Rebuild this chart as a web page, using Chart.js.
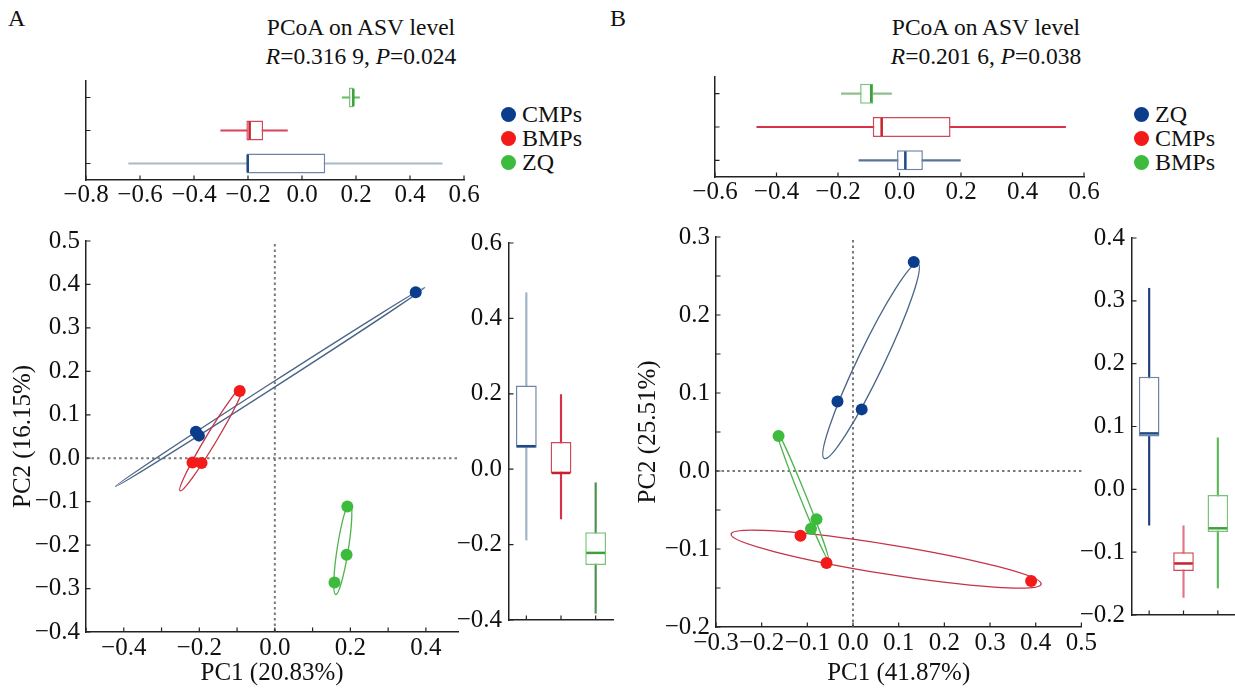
<!DOCTYPE html>
<html>
<head>
<meta charset="utf-8">
<script src="https://cdn.jsdelivr.net/npm/chart.js@4.4.1/dist/chart.umd.min.js"></script>
<style>
  body { margin: 0; width: 1235px; height: 690px; overflow: hidden; background: #fff; position: relative;
         font-family: "Liberation Serif", "Times New Roman", serif; color: #111; }
  .box { position: absolute; }
  .letter { position: absolute; font-size: 24px; line-height: 24px; }
  .ttl { position: absolute; width: 280px; font-size: 23.5px; line-height: 29px; text-align: center; }
  .leg { position: absolute; font-size: 24px; }
  .leg div { height: 24px; display: flex; align-items: center; }
  .leg i { display: inline-block; width: 15px; height: 15px; border-radius: 50%; margin-right: 6px; }
</style>
</head>
<body>
<div class="letter" style="left:8px;top:6px">A</div>
<div class="letter" style="left:610px;top:6px">B</div>
<div class="ttl" style="left:221px;top:13px">PCoA on ASV level<br><i>R</i>=0.316 9, <i>P</i>=0.024</div>
<div class="ttl" style="left:846px;top:13px">PCoA on ASV level<br><i>R</i>=0.201 6, <i>P</i>=0.038</div>
<div class="leg" id="legA" style="left:501px;top:102px"></div>
<div class="leg" id="legB" style="left:1134px;top:102px"></div>

<div class="box" style="left:56px;top:71px;width:430px;height:141px"><canvas id="topA"></canvas></div>
<div class="box" style="left:0px;top:220px;width:470px;height:470px"><canvas id="mainA"></canvas></div>
<div class="box" style="left:455px;top:221px;width:166px;height:421px"><canvas id="rightA"></canvas></div>
<div class="box" style="left:685px;top:67px;width:421px;height:142px"><canvas id="topB"></canvas></div>
<div class="box" style="left:630px;top:216px;width:468px;height:474px"><canvas id="mainB"></canvas></div>
<div class="box" style="left:1078px;top:216px;width:161px;height:421px"><canvas id="rightB"></canvas></div>

<script>
// ---- panel A ----
const groupsA = ['CMPs', 'BMPs', 'ZQ'];
const pc1A = [[0.373, -0.209, -0.201], [-0.093, -0.218, -0.194], [0.192, 0.190, 0.158]];
const pc2A = [[0.382, 0.061, 0.052], [0.155, -0.010, -0.011], [-0.111, -0.222, -0.286]];
// [low whisker, Q1, median, Q3, high whisker]
const boxPc1A = [[-0.642, -0.205, -0.201, 0.086, 0.519], [-0.301, -0.206, -0.194, -0.144, -0.054], [0.149, 0.174, 0.190, 0.191, 0.213]];
const boxPc2A = [[-0.188, 0.057, 0.061, 0.222, 0.468], [-0.132, -0.0105, -0.010, 0.072, 0.198], [-0.382, -0.254, -0.222, -0.167, -0.036]];
// [centre x, centre y, major tip x, major tip y, minor/major]
const ellipseA = [[-0.0125, 0.164, 0.397, 0.393, 0.014], [-0.168, 0.045, -0.085, 0.165, 0.09], [0.18, -0.208, 0.199, -0.102, 0.12]];

// ---- panel B ----
const groupsB = ['ZQ', 'CMPs', 'BMPs'];
const pc1B = [[0.133, -0.034, 0.019], [-0.115, -0.058, 0.390], [-0.163, -0.080, -0.092]];
const pc2B = [[0.268, 0.089, 0.079], [-0.083, -0.118, -0.141], [0.045, -0.062, -0.074]];
const boxPc1B = [[-0.132, -0.008, 0.019, 0.076, 0.198], [-0.464, -0.087, -0.058, 0.166, 0.540], [-0.189, -0.128, -0.092, -0.086, -0.026]];
const boxPc2B = [[-0.057, 0.084, 0.089, 0.179, 0.320], [-0.172, -0.130, -0.118, -0.100, -0.058], [-0.157, -0.068, -0.062, -0.009, 0.082]];
const ellipseB = [[0.0395, 0.141, 0.142, 0.266, 0.12], [0.0725, -0.113, 0.412, -0.145, 0.094], [-0.110, -0.032, -0.166, 0.0496, 0.045]];

// colours by position: blue, red, green
const pointCol = ['#0b3d8c', '#f31a1a', '#3cbb3c'];
const ellipseCol = ['#4b6587', '#c43345', '#4fb34f'];
const boxCol = ['#6f83a6', '#cf4a58', '#79c479'];
const medianCol = ['#1d4a88', '#c8202f', '#3f9f3f'];

Chart.defaults.font.family = '"Liberation Serif", "Times New Roman", serif';
Chart.defaults.font.size = 25;
Chart.defaults.color = '#111';
Chart.defaults.animation = false;
Chart.defaults.plugins.legend.display = false;
Chart.defaults.plugins.tooltip.enabled = false;

function legend(id, names) {
  document.getElementById(id).innerHTML = names.map((n, i) =>
    `<div><i style="background:${pointCol[i]}"></i>${n}</div>`).join('');
}
legend('legA', groupsA);
legend('legB', groupsB);

const tickText = v => {
  const r = Math.round(v * 1000) / 1000;
  return (r < 0 ? '\u2212' : '') + Math.abs(r).toFixed(1);
};

// inward tick marks on every axis
Chart.register({
  id: 'inTicks',
  afterDraw(chart) {
    const ctx = chart.ctx;
    ctx.save();
    ctx.strokeStyle = '#222';
    ctx.lineWidth = 1.2;
    Object.values(chart.scales).forEach(s => {
      ctx.beginPath();
      s.ticks.forEach((t, i) => {
        const p = s.getPixelForTick(i);
        if (s.isHorizontal()) { ctx.moveTo(p, s.top); ctx.lineTo(p, s.top - 4.5); }
        else { ctx.moveTo(s.right, p); ctx.lineTo(s.right + 4.5, p); }
      });
      ctx.stroke();
    });
    ctx.restore();
  }
});

// median line inside each box
Chart.register({
  id: 'medians',
  afterDatasetsDraw(chart) {
    const ctx = chart.ctx;
    const horiz = chart.options.indexAxis === 'y';
    chart.data.datasets.forEach((ds, i) => {
      if (!ds.medians) return;
      const vs = horiz ? chart.scales.x : chart.scales.y;
      chart.getDatasetMeta(i).data.forEach((bar, j) => {
        const p = bar.getProps(['x', 'y', 'width', 'height'], true);
        const m = vs.getPixelForValue(ds.medians[j]);
        ctx.save();
        ctx.strokeStyle = ds.medianColors[j];
        ctx.lineWidth = 2.5;
        ctx.beginPath();
        if (horiz) { ctx.moveTo(m, p.y - p.height / 2 + 1); ctx.lineTo(m, p.y + p.height / 2 - 1); }
        else { ctx.moveTo(p.x - p.width / 2 + 1, m); ctx.lineTo(p.x + p.width / 2 - 1, m); }
        ctx.stroke();
        ctx.restore();
      });
    });
  }
});

// dotted zero lines and group ellipses under the points
function pcoaLayer(ellipses) {
  return {
    id: 'pcoaLayer',
    beforeDatasetsDraw(chart) {
      const { ctx, chartArea: a, scales: { x, y } } = chart;
      ctx.save();
      ctx.setLineDash([2.5, 3]);
      ctx.strokeStyle = '#7a7a7a';
      ctx.lineWidth = 2;
      const x0 = x.getPixelForValue(0), y0 = y.getPixelForValue(0);
      ctx.beginPath();
      ctx.moveTo(x0, a.top + 3); ctx.lineTo(x0, a.bottom);
      ctx.moveTo(a.left, y0); ctx.lineTo(a.right, y0);
      ctx.stroke();
      ctx.setLineDash([]);
      ctx.lineWidth = 1.3;
      ellipses.forEach((e, i) => {
        const cx = x.getPixelForValue(e[0]), cy = y.getPixelForValue(e[1]);
        const tx = x.getPixelForValue(e[2]), ty = y.getPixelForValue(e[3]);
        const r = Math.hypot(tx - cx, ty - cy);
        ctx.strokeStyle = ellipseCol[i];
        ctx.beginPath();
        ctx.ellipse(cx, cy, r, r * e[4], Math.atan2(ty - cy, tx - cx), 0, Math.PI * 2);
        ctx.stroke();
      });
      ctx.restore();
    }
  };
}

function linAxis(min, max, step, every, pad, fit, extra) {
  return Object.assign({
    type: 'linear', min, max,
    grid: { drawOnChartArea: false, drawTicks: false },
    border: { display: true, color: '#222', width: 1.5 },
    ticks: {
      stepSize: step, padding: pad, autoSkip: false, maxRotation: 0, minRotation: 0, includeBounds: false,
      callback: v => (Math.round(v / step) % every === 0 ? tickText(v) : '')
    },
    afterBuildTicks: s => {
      s.ticks = s.ticks.filter(t => Math.abs(t.value / step - Math.round(t.value / step)) < 1e-6);
    },
    afterFit: fit
  }, extra || {});
}

function catAxis(fit) {
  return {
    type: 'category',
    grid: { drawOnChartArea: false, drawTicks: false },
    border: { display: true, color: '#222', width: 1.5 },
    ticks: { display: false },
    afterFit: fit
  };
}

function boxChart(id, horiz, labels, stats, cols, whisk, valueAxis, indexAxis, padding) {
  new Chart(document.getElementById(id), {
    type: 'bar',
    data: {
      labels,
      datasets: [
        { data: stats.map(s => [s[0], s[4]]), backgroundColor: whisk,
          borderWidth: 0, barThickness: 1.5, grouped: false, order: 2 },
        { data: stats.map(s => [s[1], s[3]]), backgroundColor: '#fff', borderColor: cols.map(c => boxCol[c]),
          borderWidth: 1.5, borderSkipped: false, barPercentage: 0.6, categoryPercentage: 1,
          grouped: false, order: 1, medians: stats.map(s => s[2]), medianColors: cols.map(c => medianCol[c]) }
      ]
    },
    options: {
      responsive: true, maintainAspectRatio: false, indexAxis: horiz ? 'y' : 'x',
      layout: { padding },
      scales: horiz ? { x: valueAxis, y: indexAxis } : { x: indexAxis, y: valueAxis }
    }
  });
}

function pcoaChart(id, names, xs, ys, ellipses, xAxis, yAxis, padding) {
  new Chart(document.getElementById(id), {
    type: 'scatter',
    data: {
      datasets: names.map((n, i) => ({
        label: n,
        data: xs[i].map((v, j) => ({ x: v, y: ys[i][j] })),
        backgroundColor: pointCol[i], borderColor: pointCol[i],
        pointRadius: 6, pointHoverRadius: 6, borderWidth: 0
      }))
    },
    options: {
      responsive: true, maintainAspectRatio: false,
      layout: { padding },
      scales: { x: xAxis, y: yAxis }
    },
    plugins: [pcoaLayer(ellipses)]
  });
}

const rev = a => a.slice().reverse();
const titleFont = { size: 25 };

// panel A
boxChart('topA', true, rev(groupsA), rev(boxPc1A), [2, 1, 0], ['#6cbf6c', '#d9405a', '#a9bac8'],
  linAxis(-0.8, 0.6, 0.2, 1, 0, s => { s.height = 32; }),
  catAxis(s => { s.width = 30; }),
  { top: 10, right: 22, left: 0, bottom: 0 });

pcoaChart('mainA', groupsA, pc1A, pc2A, ellipseA,
  linAxis(-0.5, 0.485, 0.1, 2, 1, s => { s.height = 58; },
    { title: { display: true, text: 'PC1 (20.83%)', font: titleFont, padding: { top: 0, bottom: 2 } } }),
  linAxis(-0.4, 0.5, 0.1, 1, 6, s => { s.width = 86; },
    { title: { display: true, text: 'PC2 (16.15%)', font: titleFont, padding: { top: 8, bottom: 0 } } }),
  { top: 12, right: 12, left: 0, bottom: 0 });

boxChart('rightA', false, groupsA, boxPc2A, [0, 1, 2], ['#9fb3c8', '#d6304a', '#4d8f4d'],
  linAxis(-0.4, 0.6, 0.2, 1, 7, s => { s.width = 54; }),
  catAxis(s => { s.height = 10; }),
  { top: 12, right: 8, left: 0, bottom: 0 });

// panel B
boxChart('topB', true, rev(groupsB), rev(boxPc1B), [2, 1, 0], ['#8fbf8f', '#d6304a', '#5b7398'],
  linAxis(-0.6, 0.6, 0.2, 1, 0, s => { s.height = 32; }),
  catAxis(s => { s.width = 30; }),
  { top: 10, right: 22, left: 0, bottom: 0 });

pcoaChart('mainB', groupsB, pc1B, pc2B, ellipseB,
  linAxis(-0.3, 0.5, 0.1, 1, 1, s => { s.height = 63; },
    { title: { display: true, text: 'PC1 (41.87%)', font: titleFont, padding: { top: 0, bottom: 2 } } }),
  linAxis(-0.2, 0.3, 0.05, 2, 6, s => { s.width = 86; },
    { title: { display: true, text: 'PC2 (25.51%)', font: titleFont, padding: { top: 3, bottom: 0 } } }),
  { top: 12, right: 16, left: 0, bottom: 0 });

boxChart('rightB', false, groupsB, boxPc2B, [0, 1, 2], ['#1f3f7a', '#e07585', '#5cb85c'],
  linAxis(-0.2, 0.4, 0.1, 1, 7, s => { s.width = 54; }),
  catAxis(s => { s.height = 10; }),
  { top: 12, right: 4, left: 0, bottom: 0 });
</script>
</body>
</html>
